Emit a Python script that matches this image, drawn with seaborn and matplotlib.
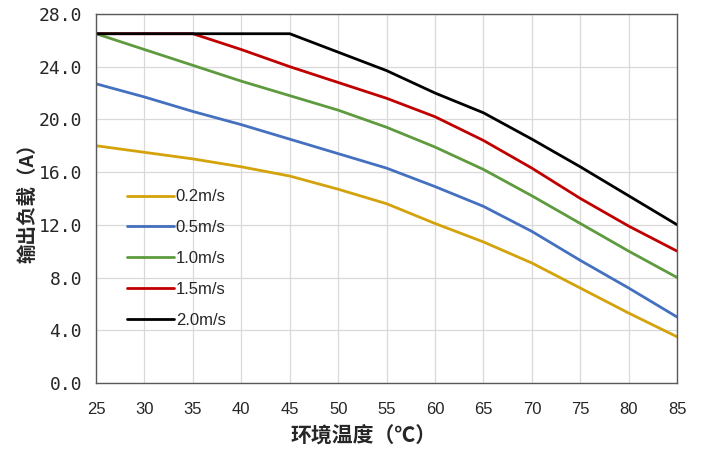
import seaborn as sns
import matplotlib.pyplot as plt
import pandas as pd

temps = [25, 30, 35, 40, 45, 50, 55, 60, 65, 70, 75, 80, 85]
v02 = [18.0, 17.5, 17.0, 16.4, 15.7, 14.7, 13.6, 12.1, 10.7, 9.1, 7.2, 5.3, 3.5]
v05 = [22.7, 21.7, 20.6, 19.6, 18.5, 17.4, 16.3, 14.9, 13.4, 11.5, 9.3, 7.2, 5.0]
v10 = [26.5, 25.3, 24.1, 22.9, 21.8, 20.7, 19.4, 17.9, 16.2, 14.2, 12.1, 10.0, 8.0]
v15 = [26.5, 26.5, 26.5, 25.3, 24.0, 22.8, 21.6, 20.2, 18.4, 16.3, 14.0, 11.9, 10.0]
v20 = [26.5, 26.5, 26.5, 26.5, 26.5, 25.1, 23.7, 22.0, 20.5, 18.5, 16.4, 14.2, 12.0]
series = ['0.2m/s', '0.5m/s', '1.0m/s', '1.5m/s', '2.0m/s']
colors = ['#D4A20B', '#4470C0', '#5E9A3E', '#C00000', '#000000']
yticks = [0, 4, 8, 12, 16, 20, 24, 28]

df = pd.DataFrame({'temp': temps * 5,
                   'load': v02 + v05 + v10 + v15 + v20,
                   'speed': [s for s in series for _ in temps]})

sns.set_style('white')
plt.rcParams['font.family'] = ['Noto Sans CJK SC', 'DejaVu Sans']

fig = plt.figure(figsize=(7.01, 4.5), dpi=100)
ax = fig.add_axes([0.137, 0.149, 0.829, 0.82])

sns.lineplot(data=df, x='temp', y='load', hue='speed', palette=colors,
             linewidth=2.0, ax=ax)

ax.set_xlim(25, 85)
ax.set_ylim(0, 28)
ax.set_xticks(range(25, 86, 5))
ax.set_xticklabels([str(t) for t in range(25, 86, 5)],
                   family='Liberation Sans', fontsize=12, color='#262626')
ax.set_yticks(yticks)
ax.set_yticklabels(['%.1f' % v for v in yticks],
                   family='DejaVu Sans Mono', fontsize=13, color='#262626')
ax.grid(True, color='#d9d9d9', linewidth=0.9)
ax.set_axisbelow(True)
for s in ax.spines.values():
    s.set_color('#595959')
    s.set_linewidth(1.0)
ax.tick_params(axis='x', direction='in', length=5, color='#595959', pad=14)
ax.tick_params(axis='y', length=0, pad=10)

ax.set_xlabel('环境温度（℃）', fontsize=15, fontweight='bold', labelpad=3)
ax.xaxis.set_label_coords(0.46, -0.115)
ax.set_ylabel('输出负载（A）', fontsize=14, fontweight='bold', labelpad=1)

ax.legend(loc='upper left', bbox_to_anchor=(0.028, 0.565), frameon=False,
          prop={'family': 'Liberation Sans', 'size': 12},
          handlelength=2.8, handletextpad=0.1, labelspacing=0.95)

fig.savefig('out.png', dpi=100)
